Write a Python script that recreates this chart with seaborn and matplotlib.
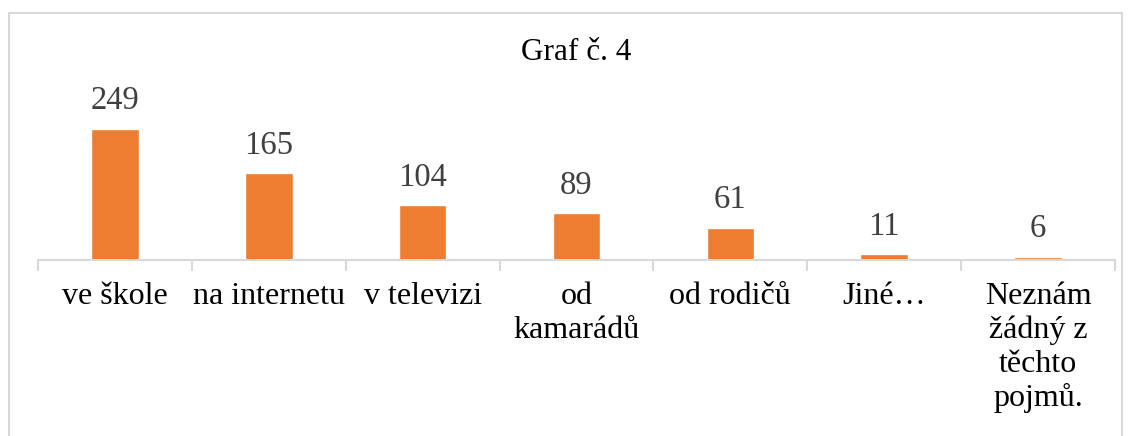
import matplotlib
matplotlib.use("Agg")
import matplotlib.pyplot as plt
import seaborn as sns
import pandas as pd

# data
categories = ['ve škole', 'na internetu', 'v televizi', 'od\nkamarádů',
              'od rodičů', 'Jiné…', 'Neznám\nžádný z\ntěchto\npojmů.']
counts = [249, 165, 104, 89, 61, 11, 6]

df = pd.DataFrame({'kategorie': categories, 'pocet': counts})

sns.set_style('white')
plt.rcParams['font.family'] = ['Liberation Serif', 'DejaVu Serif']

fig = plt.figure(figsize=(11.32, 4.36), dpi=100)
ax = fig.add_axes([38 / 1132, 176 / 436, 1077 / 1132, 158 / 436])

sns.barplot(data=df, x='kategorie', y='pocet', color='#ED7D31',
            width=0.31, saturation=1, ax=ax)

ax.set_ylim(0, 300)
ax.set_xlim(-0.5, len(categories) - 0.5)

# value labels
for i, v in enumerate(counts):
    ax.annotate(str(v), (i, v), xytext=(0, 9), textcoords='offset points',
                ha='center', va='bottom', fontsize=23.5, color='#404040',
                annotation_clip=False)

for s in ['top', 'right', 'left']:
    ax.spines[s].set_visible(False)
ax.spines['bottom'].set_color('#D9D9D9')
ax.spines['bottom'].set_linewidth(1.5)
ax.set_yticks([])
ax.set_xlabel('')
ax.set_ylabel('')

# tick marks between categories
ax.set_xticks([i - 0.5 for i in range(len(categories) + 1)], minor=True)
ax.tick_params(axis='x', which='minor', length=8, width=1.5, color='#D9D9D9',
               direction='out', bottom=True)
ax.tick_params(axis='x', which='major', length=0, pad=16, labelsize=23,
               labelcolor='black')
for lbl in ax.get_xticklabels():
    lbl.set_verticalalignment('top')
    lbl.set_linespacing(1.2)

fig.text(576 / 1132, 1 - 53 / 436, 'Graf č. 4', fontsize=22.5, ha='center',
         va='center', color='black')

# chart area border
fig.patches.append(plt.Rectangle((9 / 1132, -0.05), 1113 / 1132, 1 - 13 / 436 + 0.05,
                                 transform=fig.transFigure, fill=False,
                                 edgecolor='#D9D9D9', linewidth=1.5))

fig.savefig('out.png', dpi=100)
